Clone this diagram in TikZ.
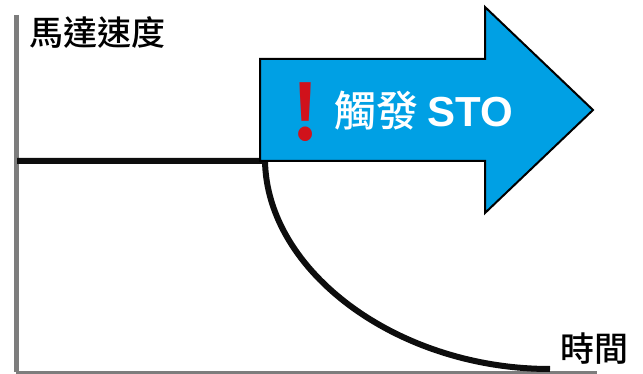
\documentclass[tikz,border=0pt]{standalone}
\usepackage{fontspec}
\setmainfont{Noto Sans CJK TC}[BoldFont={* Bold}]
\newfontfamily\medfont{Noto Sans CJK TC Medium}
\newfontfamily\latinfont{Liberation Sans}
\usepackage{xcolor}
\definecolor{stoblue}{RGB}{0,160,228}
\definecolor{stored}{RGB}{208,18,27}
\definecolor{axisgray}{RGB}{125,125,125}
\usepackage{tikz}
\usetikzlibrary{positioning}

\begin{document}
\begin{tikzpicture}[x=1pt,y=-1pt,
  axis/.style={draw=axisgray,line width=5pt},
  speed/.style={draw=black!95,line width=6pt},
  axislabel/.style={inner sep=0pt,font=\medfont\fontsize{34}{34}\selectfont}]
\useasboundingbox (0,0) rectangle (643,374);
% axes
\coordinate (origin) at (16,372);
\coordinate (top) at (16,15);
\coordinate (right) at (597,372);
\draw[axis] (top) -- (origin);
\draw[draw=axisgray,line width=3pt] (origin) -- (right);
% speed before and after STO
\coordinate (run) at (17,161);
\coordinate (trip) at (265,161);
\coordinate (stop) at (550,369);
\draw[speed] (run) -- (trip) .. controls (267,272) and (398,369) .. (stop);
% arrow
\draw[fill=stoblue,draw=black,line width=2pt,line join=miter]
  (260,59) -- (485,59) -- (485,7) -- (593,110) -- (485,213) -- (485,161) -- (260,161) -- cycle;
\node (warn) at (306,112) [inner sep=0pt,text=stored,font=\fontsize{76}{76}\selectfont\bfseries]{!};
\node (sto) at (334,111) [anchor=west,inner sep=0pt,text=white,font=\medfont\fontsize{42}{42}\selectfont]{觸發 {\latinfont\bfseries STO}};
% labels
\node (speedlabel) at (98,33) [axislabel]{馬達速度};
\node (timelabel) at (594,349) [axislabel]{時間};
\end{tikzpicture}
\end{document}
